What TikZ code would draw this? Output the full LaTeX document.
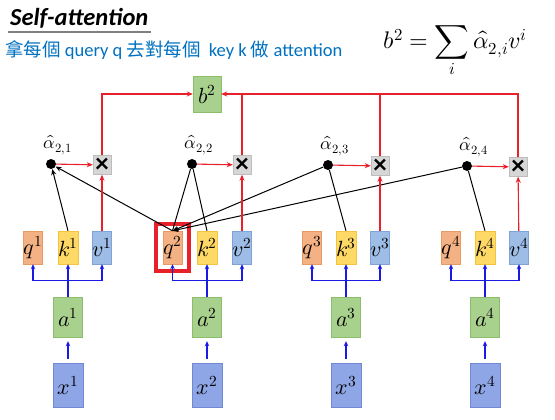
\documentclass[tikz,border=0pt]{standalone}
\usepackage{fontspec}
\usepackage{unicode-math}
\setmainfont{Carlito}
\setmathfont{Latin Modern Math}
\newfontfamily\cjk{Noto Sans CJK TC}
\usepackage{xcolor}
\usepackage{tikz}
\usetikzlibrary{arrows.meta,calc}
\definecolor{qorange}{HTML}{F4B183}
\definecolor{qorangedark}{HTML}{E89A66}
\definecolor{kyellow}{HTML}{FFD966}
\definecolor{kyellowdark}{HTML}{F2C440}
\definecolor{vblue}{HTML}{9DBDE6}
\definecolor{vbluedark}{HTML}{7FA3D6}
\definecolor{agreen}{HTML}{A9D18E}
\definecolor{agreendark}{HTML}{8CBD6C}
\definecolor{xblue}{HTML}{8EA5E6}
\definecolor{xbluedark}{HTML}{7088D6}
\definecolor{mulgray}{HTML}{D6D6D6}
\definecolor{mulgraydark}{HTML}{BDBDBD}
\definecolor{attnred}{HTML}{E8202A}
\definecolor{projblue}{HTML}{1A1AE6}
\definecolor{subblue}{HTML}{0070C0}
\tikzset{
  box/.style={draw, inner sep=0pt, font=\fontsize{22}{24}\selectfont},
  qbox/.style={box, fill=qorange, draw=qorangedark, minimum width=19pt, minimum height=33pt},
  kbox/.style={box, fill=kyellow, draw=kyellowdark, minimum width=19pt, minimum height=33pt},
  vbox/.style={box, fill=vblue, draw=vbluedark, minimum width=19pt, minimum height=33pt},
  abox/.style={box, fill=agreen, draw=agreendark, minimum width=29pt, minimum height=40pt},
  xbox/.style={box, fill=xblue, draw=xbluedark, minimum width=30pt, minimum height=44pt},
  mulbox/.style={box, fill=mulgray, draw=mulgraydark, minimum width=18pt, minimum height=19pt,
    font=\fontsize{27}{27}\selectfont\bfseries},
  dot/.style={circle, fill=black, inner sep=0pt, minimum size=10pt},
  alabel/.style={inner sep=0pt, font=\fontsize{18}{20}\selectfont},
  qframe/.style={draw=attnred, line width=4pt, minimum width=33pt, minimum height=47pt},
  redline/.style={draw=attnred, line width=1.1pt, -{Stealth[length=6pt,width=5pt]}},
  redplain/.style={draw=attnred, line width=1.1pt},
  blueline/.style={draw=projblue, line width=1.8pt, -{Stealth[length=5pt,width=4.5pt]}},
  blackline/.style={draw=black, line width=1pt},
  blackarrow/.style={blackline, -{Stealth[length=6pt,width=5pt]}}
}
\begin{document}
\begin{tikzpicture}[x=1pt,y=-1pt]
  \path[use as bounding box] (0,0) rectangle (555,420);

  % heading
  \node[anchor=west, inner sep=0pt, font=\fontsize{24.5}{28}\selectfont\bfseries\itshape] (title) at (10,18)
    {Self-attention};
  \draw[draw=gray, line width=1.8pt] ($(title.south west)+(-2,4)$) -- ($(title.south east)+(2,4)$);
  \node[anchor=west, inner sep=0pt, text=subblue, font=\fontsize{18.5}{22}\selectfont] (sub) at (5,50)
    {{\cjk 拿每個} query q {\cjk 去對每個}\ \ key k {\cjk 做} attention};
  \node[inner sep=0pt, font=\fontsize{24}{28}\selectfont] (eq) at (455,52)
    {$\displaystyle b^2=\sum_i\hat{\alpha}_{2,i}v^i$};

  % output
  \node[abox, minimum width=28pt, minimum height=36pt] (b2) at (207,94) {$b^2$};

  % inputs
  \node[xbox] (x1) at (68,385) {$x^1$};
  \node[xbox] (x2) at (207,385) {$x^2$};
  \node[xbox] (x3) at (346,385) {$x^3$};
  \node[xbox] (x4) at (485,385) {$x^4$};

  \node[abox] (a1) at (68,317) {$a^1$};
  \node[abox] (a2) at (207,317) {$a^2$};
  \node[abox] (a3) at (346,317) {$a^3$};
  \node[abox] (a4) at (485,317) {$a^4$};

  % q k v
  \node[qbox] (q1) at (33,247.5) {$q^1$};
  \node[kbox] (k1) at (68,247.5) {$k^1$};
  \node[vbox] (v1) at (102,247.5) {$v^1$};
  \node[qframe] (q2frame) at (172.5,247.5) {};
  \node[qbox] (q2) at (172.5,247.5) {$q^2$};
  \node[kbox] (k2) at (207,247.5) {$k^2$};
  \node[vbox] (v2) at (242,247.5) {$v^2$};
  \node[qbox] (q3) at (312,247.5) {$q^3$};
  \node[kbox] (k3) at (346,247.5) {$k^3$};
  \node[vbox] (v3) at (380,247.5) {$v^3$};
  \node[qbox] (q4) at (451,247.5) {$q^4$};
  \node[kbox] (k4) at (485,247.5) {$k^4$};
  \node[vbox] (v4) at (519,247.5) {$v^4$};

  % attention scores and products
  \node[dot] (al1) at (51,164) {};
  \node[dot] (al2) at (192,164) {};
  \node[dot] (al3) at (328,165) {};
  \node[dot] (al4) at (467,166) {};
  \node[alabel] (lal1) at (58,145) {$\hat{\alpha}_{2,1}$};
  \node[alabel] (lal2) at (199,145) {$\hat{\alpha}_{2,2}$};
  \node[alabel] (lal3) at (335,146) {$\hat{\alpha}_{2,3}$};
  \node[alabel] (lal4) at (474,147) {$\hat{\alpha}_{2,4}$};

  \node[mulbox] (m1) at (102,165) {×};
  \node[mulbox] (m2) at (242,165) {×};
  \node[mulbox] (m3) at (380,166) {×};
  \node[mulbox] (m4) at (518,167) {×};

  % embeddings
  \draw[blueline, shorten <=4pt, shorten >=4pt] (x1) -- (a1);
  \draw[blueline, shorten <=4pt, shorten >=4pt] (x2) -- (a2);
  \draw[blueline, shorten <=4pt, shorten >=4pt] (x3) -- (a3);
  \draw[blueline, shorten <=4pt, shorten >=4pt] (x4) -- (a4);

  \draw[blueline] (a1) -- (k1);
  \draw[blueline] ($(a1.north)!.5!(k1.south)$) -| (q1.south);
  \draw[blueline] ($(a1.north)!.5!(k1.south)$) -| (v1.south);
  \draw[blueline] (a2) -- (k2);
  \draw[blueline] ($(a2.north)!.5!(k2.south)$) -| (q2.south);
  \draw[blueline] ($(a2.north)!.5!(k2.south)$) -| (v2.south);
  \draw[blueline] (a3) -- (k3);
  \draw[blueline] ($(a3.north)!.5!(k3.south)$) -| (q3.south);
  \draw[blueline] ($(a3.north)!.5!(k3.south)$) -| (v3.south);
  \draw[blueline] (a4) -- (k4);
  \draw[blueline] ($(a4.north)!.5!(k4.south)$) -| (q4.south);
  \draw[blueline] ($(a4.north)!.5!(k4.south)$) -| (v4.south);

  % query 2 against every key
  \draw[blackarrow] (k1.north) -- (al1);
  \draw[blackarrow] (q2.north) -- (al1);
  \draw[blackline] (q2.north) -- (al2);
  \draw[blackline] (k2.north) -- (al2);
  \draw[blackarrow] (al3) -- (q2.north);
  \draw[blackline] (k3.north) -- (al3);
  \draw[blackarrow] (al4) -- (q2.north);
  \draw[blackline] (k4.north) -- (al4);

  % weighted sum
  \draw[redline] (al1) -- (m1);
  \draw[redline] (al2) -- (m2);
  \draw[redline] (al3) -- (m3);
  \draw[redline] (al4) -- (m4);
  \draw[redline] (v1) -- (m1);
  \draw[redline] (v2) -- (m2);
  \draw[redline] (v3) -- (m3);
  \draw[redline] (v4) -- (m4);
  \draw[redline] (m1.north) |- (b2.west);
  \draw[redline] (m4.north) |- (b2.east);
  \draw[redplain] (m2.north) -- (m2.north |- b2.east);
  \draw[redplain] (m3.north) -- (m3.north |- b2.east);
\end{tikzpicture}
\end{document}
